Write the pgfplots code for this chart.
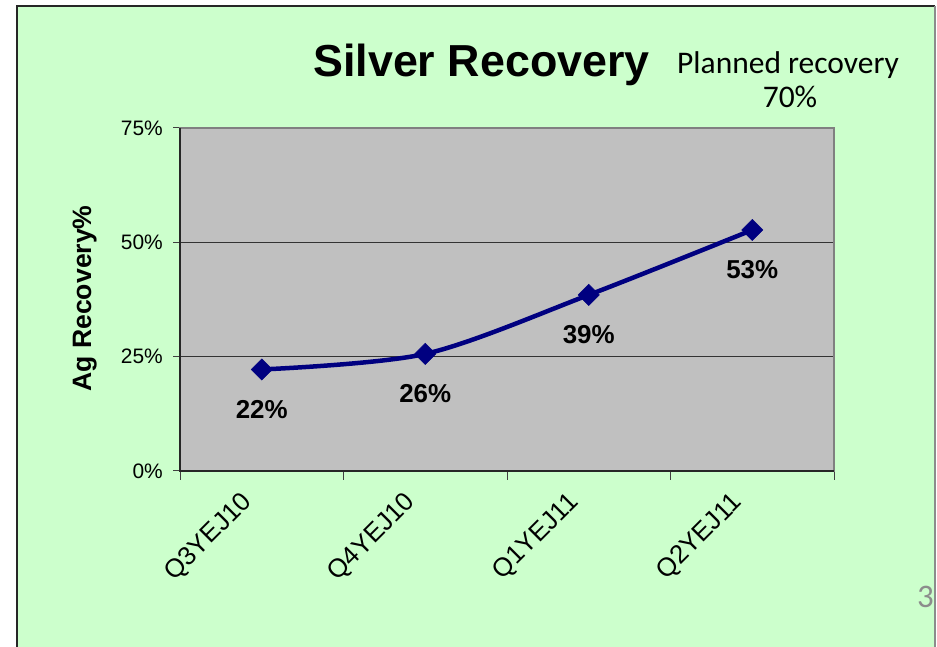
\documentclass[border=0pt]{standalone}
\usepackage{pgfplots}
\pgfplotsset{compat=1.18}
\usepackage{fontspec}
\setmainfont{Liberation Sans}
\newfontfamily\calibri{Carlito}
\definecolor{bggreen}{HTML}{CCFFCC}
\definecolor{plotgray}{HTML}{C0C0C0}
\definecolor{navyline}{HTML}{000080}
\newcommand{\yfs}{\fontsize{21}{21}\selectfont}
\newcommand{\xfs}{\fontsize{26}{26}\selectfont}
\begin{document}
\begin{tikzpicture}[x=1bp,y=1bp]
\path[use as bounding box] (0,0) rectangle (937,647);
\fill[white] (0,0) rectangle (937,647);
\fill[bggreen] (17,0) rectangle (935,641);
\draw[black!85, line width=1.5bp] (17,0) -- (17,641) -- (935,641);
\draw[black!45, line width=1.5bp] (935,641) -- (935,0);
\begin{axis}[
  at={(180bp,176bp)}, anchor=south west,
  scale only axis, width=654bp, height=343bp,
  xmin=-0.5, xmax=3.5, ymin=0, ymax=75,
  axis background/.style={fill=plotgray},
  xtick={0,1,2,3},
  xticklabels={{\xfs Q3YEJ10},{\xfs Q4YEJ10},{\xfs Q1YEJ11},{\xfs Q2YEJ11}},
  minor xtick={-0.5,0.5,1.5,2.5,3.5},
  every major x tick/.style={draw=none},
  ytick={0,25,50,75},
  yticklabels={{\yfs 0\%},{\yfs 25\%},{\yfs 50\%},{\yfs 75\%}},
  xtick pos=bottom, ytick pos=left,
  tick align=outside,
  major tick length=7bp, minor tick length=9bp,
  tick style={black!75, line width=1bp},
  ymajorgrids,
  grid style={black!80, line width=0.8bp},
  axis line style={draw=black!50, line width=1.5bp},
  yticklabel style={text=black, inner sep=0pt, anchor=east, xshift=-10bp},
  xticklabel style={text=black, inner sep=0pt, xshift=-22bp, yshift=-12bp, rotate=45, anchor=north east},
  nodes near coords,
  point meta=explicit symbolic,
  every node near coord/.append style={font=\bfseries\fontsize{26}{26}\selectfont, text=black, anchor=center, yshift=-40bp},
  clip=false,
  after end axis/.code={
    \draw[black!85, line width=1.5bp] (rel axis cs:0,1) -- (rel axis cs:0,0) -- (rel axis cs:1,0);
  },
]
\addplot[navyline, line width=4.5bp, smooth, tension=0.5,
  mark=square*, mark size=7.5bp,
  mark options={rotate=45, fill=navyline, draw=navyline, line width=0.5bp, solid}]
  coordinates {(0,22.2) [22\%] (1,25.6) [26\%] (2,38.5) [39\%] (3,52.7) [53\%]};
\end{axis}
\node[anchor=base, font=\bfseries\fontsize{45}{45}\selectfont] at (481.5,570) {Silver Recovery};
\node[anchor=base west, inner sep=0pt, font=\calibri\fontsize{31.6}{31.6}\selectfont] at (677,573) {Planned recovery};
\node[anchor=base, inner sep=0pt, font=\calibri\fontsize{31.6}{31.6}\selectfont] at (790,539) {70\%};
\node[anchor=base, rotate=90, inner sep=0pt, font=\bfseries\fontsize{26.7}{26.7}\selectfont] at (91,348.5) {Ag Recovery\%};
\node[anchor=base, inner sep=0pt, font=\calibri\fontsize{33}{33}\selectfont, text=black!45] at (925.5,39) {3};
\end{tikzpicture}
\end{document}
